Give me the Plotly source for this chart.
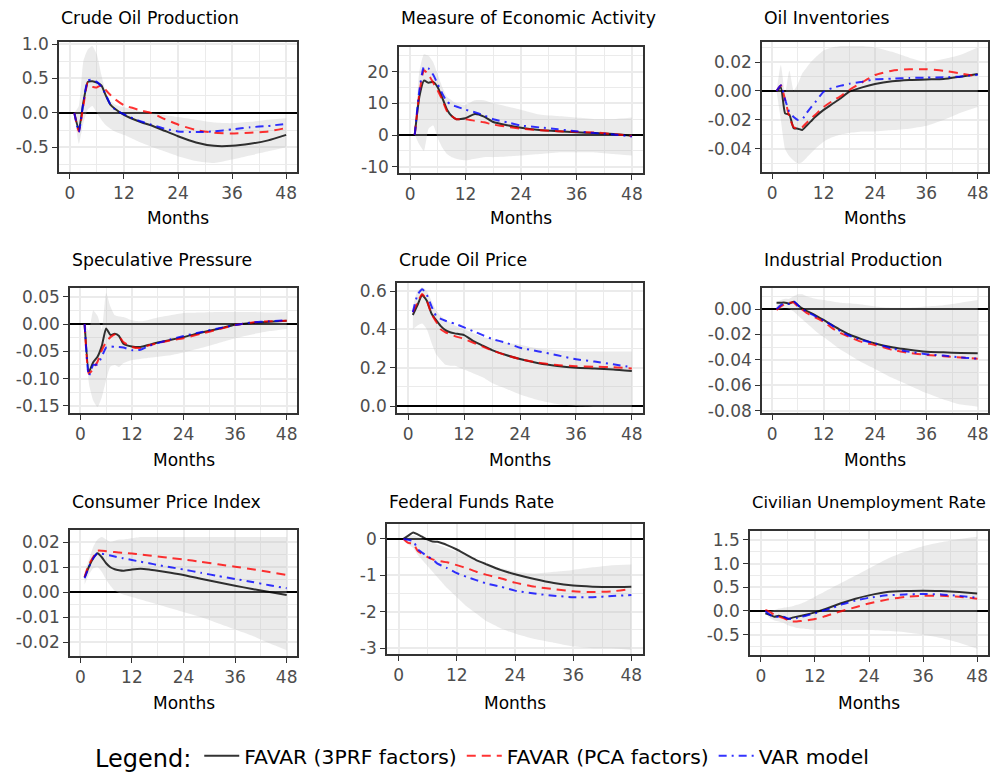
import plotly.graph_objects as go

W, H = 992, 772
FONT = "DejaVu Sans"

# ---------------- data ----------------
months = [1, 2, 3, 4, 5, 6, 7, 8, 9, 10, 12, 14, 16, 18, 21, 24, 28, 32, 36, 40, 44, 48]
x_ticks = [0, 12, 24, 36, 48]
x_tick_labels = ["0", "12", "24", "36", "48"]
x_minor = [6, 18, 30, 42]

series_names = ["FAVAR (3PRF factors)", "FAVAR (PCA factors)", "VAR model"]

# Crude Oil Production
cop_3prf = [0, -0.25, 0.15, 0.45, 0.46, 0.44, 0.40, 0.25, 0.12, 0.06, -0.03, -0.09, -0.14, -0.18, -0.26, -0.34, -0.43, -0.48, -0.48, -0.45, -0.40, -0.32]
cop_pca = [0, -0.27, 0.10, 0.44, 0.38, 0.37, 0.40, 0.33, 0.26, 0.20, 0.11, 0.07, 0.03, 0.0, -0.09, -0.17, -0.25, -0.29, -0.30, -0.29, -0.27, -0.22]
cop_var = [0, -0.28, 0.15, 0.47, 0.48, 0.45, 0.38, 0.26, 0.12, 0.05, -0.02, -0.08, -0.13, -0.17, -0.23, -0.27, -0.28, -0.27, -0.24, -0.21, -0.19, -0.16]
cop_lo = [0, -0.45, -0.15, 0.05, 0.10, 0.0, -0.10, -0.18, -0.23, -0.27, -0.32, -0.38, -0.44, -0.49, -0.56, -0.63, -0.70, -0.73, -0.68, -0.62, -0.56, -0.50]
cop_hi = [0, 0.10, 0.75, 0.92, 0.97, 0.85, 0.55, 0.30, 0.18, 0.12, 0.08, 0.05, 0.02, 0.0, -0.03, -0.06, -0.10, -0.14, -0.15, -0.13, -0.10, -0.08]

# Measure of Economic Activity
mea_3prf = [0, 12, 17.2, 16.5, 16.8, 15, 11.6, 8, 6, 5, 5.3, 6.6, 5.8, 4.1, 3.1, 2.3, 1.6, 1.2, 0.9, 0.6, 0.3, -0.2]
mea_pca = [0, 13, 20.5, 19, 16.5, 14, 11, 7.5, 6, 5, 5, 4.5, 4, 3.3, 2.6, 2.0, 1.5, 1.2, 1.0, 0.8, 0.3, -0.3]
mea_var = [0, 14, 21.5, 21, 19, 16, 13, 10.5, 9.5, 9, 8, 7.2, 6.2, 5, 4, 3, 2.4, 1.8, 1.2, 0.6, 0.2, -0.5]
mea_lo = [0, -3, -5, 2, 3, -1, -4, -6, -7, -7.5, -8, -7.5, -7, -7, -6.8, -6.5, -6, -5.5, -5.5, -5.5, -6, -6.5]
mea_hi = [0, 20, 25.5, 25, 23, 19, 15, 12, 11, 10, 9.5, 11, 11, 10, 9, 8, 6.5, 6, 5.5, 5, 5, 5.5]

# Oil Inventories
inv_3prf = [0, 0.0025, -0.0154, -0.0163, -0.0257, -0.026, -0.0269, -0.024, -0.021, -0.018, -0.013, -0.009, -0.005, -0.0005, 0.0025, 0.0048, 0.0067, 0.0076, 0.008, 0.0082, 0.0099, 0.0117]
inv_pca = [0, 0.004, -0.006, -0.018, -0.025, -0.026, -0.025, -0.022, -0.019, -0.0165, -0.011, -0.007, -0.0035, 0.0007, 0.006, 0.011, 0.014, 0.015, 0.015, 0.014, 0.012, 0.010]
inv_var = [0, 0.004, -0.006, -0.0145, -0.018, -0.020, -0.0195, -0.0153, -0.0115, -0.0078, -0.0005, 0.002, 0.0037, 0.005, 0.0064, 0.008, 0.0085, 0.009, 0.0092, 0.0094, 0.010, 0.0112]
inv_lo = [0, -0.02, -0.04, -0.045, -0.048, -0.050, -0.049, -0.046, -0.043, -0.040, -0.035, -0.032, -0.030, -0.029, -0.028, -0.028, -0.027, -0.026, -0.024, -0.020, -0.015, -0.011]
inv_hi = [0, 0.018, -0.0016, 0.014, 0.0004, 0.005, 0.012, 0.016, 0.020, 0.023, 0.028, 0.030, 0.031, 0.031, 0.031, 0.030, 0.027, 0.023, 0.020, 0.022, 0.025, 0.030]

# Speculative Pressure
spec_3prf = [0, -0.0875, -0.07, -0.06, -0.04, -0.008, -0.02, -0.018, -0.022, -0.036, -0.041, -0.042, -0.038, -0.034, -0.029, -0.024, -0.016, -0.009, -0.0015, 0.002, 0.004, 0.006]
spec_pca = [0, -0.091, -0.082, -0.069, -0.048, -0.033, -0.024, -0.019, -0.022, -0.033, -0.042, -0.044, -0.039, -0.035, -0.030, -0.026, -0.018, -0.010, -0.002, 0.003, 0.005, 0.006]
spec_var = [0, -0.095, -0.075, -0.074, -0.060, -0.043, -0.041, -0.042, -0.042, -0.043, -0.048, -0.047, -0.040, -0.035, -0.028, -0.022, -0.015, -0.008, -0.002, 0.003, 0.005, 0.007]
spec_lo = [0, -0.109, -0.14, -0.152, -0.134, -0.103, -0.078, -0.075, -0.079, -0.072, -0.066, -0.064, -0.062, -0.060, -0.057, -0.052, -0.044, -0.035, -0.026, -0.019, -0.013, -0.009]
spec_hi = [0, -0.012, 0.025, 0.015, -0.010, 0.057, 0.032, 0.016, 0.014, 0.013, 0.007, 0.005, 0.008, 0.012, 0.016, 0.020, 0.021, 0.022, 0.022, 0.022, 0.021, 0.022]

# Crude Oil Price
price_3prf = [0.475, 0.527, 0.579, 0.549, 0.483, 0.448, 0.417, 0.396, 0.385, 0.379, 0.370, 0.339, 0.315, 0.292, 0.266, 0.245, 0.223, 0.209, 0.200, 0.196, 0.191, 0.183]
price_pca = [0.49, 0.54, 0.585, 0.55, 0.48, 0.44, 0.40, 0.385, 0.375, 0.365, 0.35, 0.33, 0.31, 0.29, 0.265, 0.245, 0.226, 0.214, 0.208, 0.205, 0.202, 0.196]
price_var = [0.49, 0.58, 0.61, 0.58, 0.52, 0.47, 0.455, 0.445, 0.437, 0.43, 0.41, 0.39, 0.37, 0.35, 0.33, 0.304, 0.285, 0.265, 0.244, 0.232, 0.218, 0.202]
price_lo = [0.40, 0.42, 0.43, 0.40, 0.33, 0.27, 0.24, 0.215, 0.21, 0.21, 0.19, 0.17, 0.15, 0.12, 0.09, 0.06, 0.03, 0.01, 0.0, -0.005, -0.005, -0.005]
price_hi = [0.52, 0.60, 0.62, 0.60, 0.55, 0.50, 0.47, 0.45, 0.435, 0.42, 0.40, 0.38, 0.36, 0.35, 0.33, 0.32, 0.30, 0.29, 0.285, 0.285, 0.285, 0.284]

# Industrial Production
ip_3prf = [0.005, 0.005, 0.005, 0.0043, 0.0058, 0.003, 0.0005, -0.0014, -0.003, -0.0047, -0.0086, -0.0126, -0.0165, -0.020, -0.0238, -0.027, -0.030, -0.032, -0.0335, -0.034, -0.0345, -0.0348]
ip_pca = [-0.0008, 0.002, 0.004, 0.005, 0.005, 0.002, -0.0005, -0.003, -0.0048, -0.0065, -0.010, -0.015, -0.019, -0.022, -0.026, -0.0282, -0.032, -0.0345, -0.036, -0.037, -0.038, -0.039]
ip_var = [0.0, 0.003, 0.0045, 0.004, 0.006, 0.003, 0.0, -0.002, -0.0038, -0.0055, -0.009, -0.013, -0.0175, -0.021, -0.0245, -0.027, -0.031, -0.0335, -0.0355, -0.0365, -0.038, -0.039]
ip_lo = [-0.001, 0.0, 0.001, 0.0, -0.002, -0.005, -0.008, -0.011, -0.014, -0.017, -0.022, -0.027, -0.032, -0.036, -0.042, -0.047, -0.054, -0.060, -0.066, -0.071, -0.075, -0.0766]
ip_hi = [0.005, 0.007, 0.008, 0.008, 0.010, 0.0115, 0.0115, 0.010, 0.009, 0.008, 0.007, 0.006, 0.005, 0.0045, 0.0035, 0.002, 0.001, 0.001, 0.002, 0.003, 0.005, 0.007]

# Consumer Price Index
cpi_3prf = [0.0059, 0.0101, 0.0135, 0.0155, 0.0139, 0.0115, 0.0099, 0.0091, 0.0087, 0.0085, 0.009, 0.0093, 0.009, 0.0085, 0.0077, 0.0068, 0.0053, 0.0039, 0.0025, 0.0012, 0.0, -0.0012]
cpi_pca = [0.006, 0.011, 0.014, 0.0165, 0.0165, 0.0163, 0.0161, 0.016, 0.0158, 0.0157, 0.0154, 0.015, 0.0146, 0.0142, 0.0136, 0.013, 0.0121, 0.0111, 0.0101, 0.0091, 0.008, 0.0068]
cpi_var = [0.0055, 0.010, 0.0135, 0.0155, 0.0153, 0.015, 0.0146, 0.0142, 0.0138, 0.0135, 0.0128, 0.0121, 0.0115, 0.0108, 0.0099, 0.009, 0.0077, 0.0064, 0.0052, 0.004, 0.0027, 0.0015]
cpi_lo = [0.003, 0.007, 0.0095, 0.010, 0.008, 0.005, 0.0025, 0.0005, -0.0003, -0.001, -0.002, -0.003, -0.004, -0.005, -0.0065, -0.008, -0.010, -0.0125, -0.015, -0.0175, -0.0205, -0.0233]
cpi_hi = [0.008, 0.013, 0.018, 0.021, 0.022, 0.021, 0.020, 0.0205, 0.021, 0.021, 0.0215, 0.022, 0.022, 0.022, 0.022, 0.022, 0.022, 0.022, 0.022, 0.022, 0.022, 0.022]

# Federal Funds Rate
ffr_3prf = [0, 0.09, 0.18, 0.12, 0.05, -0.02, -0.07, -0.08, -0.12, -0.17, -0.29, -0.44, -0.58, -0.69, -0.85, -0.97, -1.10, -1.21, -1.28, -1.31, -1.32, -1.31]
ffr_pca = [0, -0.11, -0.13, -0.34, -0.42, -0.50, -0.56, -0.60, -0.62, -0.64, -0.72, -0.80, -0.90, -0.98, -1.08, -1.20, -1.31, -1.38, -1.44, -1.46, -1.44, -1.37]
ffr_var = [0, -0.02, -0.06, -0.29, -0.39, -0.48, -0.56, -0.68, -0.74, -0.80, -0.94, -1.04, -1.13, -1.22, -1.31, -1.42, -1.50, -1.56, -1.60, -1.60, -1.57, -1.54]
ffr_lo = [0, -0.15, -0.25, -0.45, -0.60, -0.75, -0.90, -1.05, -1.20, -1.35, -1.60, -1.85, -2.05, -2.25, -2.45, -2.60, -2.75, -2.85, -2.95, -3.0, -3.0, -3.05]
ffr_hi = [0, 0.05, 0.10, 0.05, 0.0, -0.05, -0.10, -0.15, -0.20, -0.25, -0.35, -0.45, -0.58, -0.68, -0.80, -0.90, -0.95, -0.90, -0.85, -0.78, -0.72, -0.70]

# Civilian Unemployment Rate
unemp_3prf = [-0.05, -0.08, -0.12, -0.10, -0.13, -0.17, -0.14, -0.12, -0.10, -0.08, -0.03, 0.03, 0.10, 0.17, 0.26, 0.33, 0.40, 0.42, 0.43, 0.42, 0.40, 0.37]
unemp_pca = [0.02, -0.02, -0.08, -0.12, -0.15, -0.19, -0.22, -0.22, -0.21, -0.20, -0.17, -0.12, -0.06, 0.0, 0.08, 0.16, 0.24, 0.30, 0.32, 0.32, 0.30, 0.26]
unemp_var = [0, -0.08, -0.13, -0.12, -0.12, -0.16, -0.17, -0.15, -0.12, -0.10, -0.05, 0.01, 0.07, 0.14, 0.22, 0.28, 0.33, 0.35, 0.36, 0.35, 0.32, 0.28]
unemp_lo = [-0.05, -0.15, -0.20, -0.22, -0.25, -0.30, -0.33, -0.36, -0.37, -0.38, -0.40, -0.40, -0.40, -0.40, -0.40, -0.40, -0.42, -0.45, -0.50, -0.57, -0.67, -0.80]
unemp_hi = [0, 0.0, 0.02, 0.05, 0.07, 0.08, 0.10, 0.13, 0.16, 0.20, 0.30, 0.40, 0.50, 0.60, 0.75, 0.90, 1.10, 1.25, 1.37, 1.45, 1.52, 1.57]

# y-axis ticks
cop_yticks = [-0.5, 0.0, 0.5, 1.0]; cop_ylabels = ["-0.5", "0.0", "0.5", "1.0"]
mea_yticks = [-10, 0, 10, 20]; mea_ylabels = ["-10", "0", "10", "20"]
inv_yticks = [-0.04, -0.02, 0.0, 0.02]; inv_ylabels = ["-0.04", "-0.02", "0.00", "0.02"]
spec_yticks = [-0.15, -0.10, -0.05, 0.0, 0.05]; spec_ylabels = ["-0.15", "-0.10", "-0.05", "0.00", "0.05"]
price_yticks = [0.0, 0.2, 0.4, 0.6]; price_ylabels = ["0.0", "0.2", "0.4", "0.6"]
ip_yticks = [-0.08, -0.06, -0.04, -0.02, 0.0]; ip_ylabels = ["-0.08", "-0.06", "-0.04", "-0.02", "0.00"]
cpi_yticks = [-0.02, -0.01, 0.0, 0.01, 0.02]; cpi_ylabels = ["-0.02", "-0.01", "0.00", "0.01", "0.02"]
ffr_yticks = [-3, -2, -1, 0]; ffr_ylabels = ["-3", "-2", "-1", "0"]
unemp_yticks = [-0.5, 0.0, 0.5, 1.0, 1.5]; unemp_ylabels = ["-0.5", "0.0", "0.5", "1.0", "1.5"]

# ---------------- layout of panels (screen pixels) ----------------
panels = [
    dict(title="Crude Oil Production", box=(59, 297, 42, 172), yr=(-0.86, 1.03),
         yt=cop_yticks, yl=cop_ylabels, ym=[-0.75, -0.25, 0.25, 0.75],
         s=(cop_3prf, cop_pca, cop_var, cop_lo, cop_hi), ty=18, my=218, tfs=17.3),
    dict(title="Measure of Economic Activity", box=(399, 643, 47, 173), yr=(-12.0, 27.8),
         yt=mea_yticks, yl=mea_ylabels, ym=[-5, 5, 15, 25],
         s=(mea_3prf, mea_pca, mea_var, mea_lo, mea_hi), ty=18, my=218, tfs=17.3),
    dict(title="Oil Inventories", box=(762, 988, 42, 172), yr=(-0.0559, 0.0338),
         yt=inv_yticks, yl=inv_ylabels, ym=[-0.05, -0.03, -0.01, 0.01, 0.03],
         s=(inv_3prf, inv_pca, inv_var, inv_lo, inv_hi), ty=18, my=218, tfs=17.3),
    dict(title="Speculative Pressure", box=(70, 297, 288, 413), yr=(-0.163, 0.066),
         yt=spec_yticks, yl=spec_ylabels, ym=[-0.125, -0.075, -0.025, 0.025],
         s=(spec_3prf, spec_pca, spec_var, spec_lo, spec_hi), ty=260, my=460, tfs=17.3),
    dict(title="Crude Oil Price", box=(397, 643, 283, 413), yr=(-0.0365, 0.642),
         yt=price_yticks, yl=price_ylabels, ym=[0.1, 0.3, 0.5],
         s=(price_3prf, price_pca, price_var, price_lo, price_hi), ty=260, my=460, tfs=17.3),
    dict(title="Industrial Production", box=(762, 988, 288, 413), yr=(-0.0816, 0.0165),
         yt=ip_yticks, yl=ip_ylabels, ym=[-0.07, -0.05, -0.03, -0.01, 0.01],
         s=(ip_3prf, ip_pca, ip_var, ip_lo, ip_hi), ty=260, my=460, tfs=17.3),
    dict(title="Consumer Price Index", box=(70, 297, 530, 656), yr=(-0.0256, 0.0248),
         yt=cpi_yticks, yl=cpi_ylabels, ym=[-0.015, -0.005, 0.005, 0.015],
         s=(cpi_3prf, cpi_pca, cpi_var, cpi_lo, cpi_hi), ty=502, my=703, tfs=17.3),
    dict(title="Federal Funds Rate", box=(387, 643, 524, 654), yr=(-3.16, 0.41),
         yt=ffr_yticks, yl=ffr_ylabels, ym=[-2.5, -1.5, -0.5],
         s=(ffr_3prf, ffr_pca, ffr_var, ffr_lo, ffr_hi), ty=502, my=703, tfs=17.3),
    dict(title="Civilian Unemployment Rate", box=(750, 988, 531, 655), yr=(-0.93, 1.69),
         yt=unemp_yticks, yl=unemp_ylabels, ym=[-0.75, -0.25, 0.25, 0.75, 1.25],
         s=(unemp_3prf, unemp_pca, unemp_var, unemp_lo, unemp_hi), ty=502, my=703, tfs=16.4),
]

line_styles = [
    dict(color="rgba(0,0,0,0.8)", width=2, dash="solid"),
    dict(color="rgba(255,0,0,0.8)", width=2, dash="9px,6px"),
    dict(color="rgba(0,0,255,0.8)", width=2, dash="8px,5px,2px,5px"),
]
ribbon_fill = "rgba(190,190,190,0.3)"

GRID = "#EBEBEB"
axis_common = dict(
    showline=True, mirror=True, linecolor="#333333", linewidth=1.6,
    ticks="outside", ticklen=5, tickwidth=1.2, tickcolor="#333333",
    showgrid=True, gridcolor=GRID, gridwidth=1.6,
    tickfont=dict(family=FONT, size=17, color="#4D4D4D"),
    fixedrange=True, automargin=False,
)


def px_x(v):
    return v / W


def px_y(v):
    return 1 - v / H


fig = go.Figure()
annotations = []
layout = dict(
    width=W, height=H, margin=dict(l=0, r=0, t=0, b=0, autoexpand=False),
    paper_bgcolor="white", plot_bgcolor="white",
    font=dict(family=FONT, color="black"),
    showlegend=True,
)

for i, p in enumerate(panels):
    k = "" if i == 0 else str(i + 1)
    l, r, t, b = p["box"]
    xa = "x" + k
    ya = "y" + k
    lo, hi = p["s"][3], p["s"][4]
    fig.add_trace(go.Scatter(x=months, y=lo, mode="lines", line=dict(width=0, shape="spline", smoothing=0.5),
                             xaxis=xa, yaxis=ya, showlegend=False, hoverinfo="skip"))
    fig.add_trace(go.Scatter(x=months, y=hi, mode="lines", line=dict(width=0, shape="spline", smoothing=0.5),
                             fill="tonexty", fillcolor=ribbon_fill,
                             xaxis=xa, yaxis=ya, showlegend=False, hoverinfo="skip"))
    for j in range(3):
        st = line_styles[j]
        fig.add_trace(go.Scatter(
            x=months, y=p["s"][j], mode="lines", name=series_names[j],
            line=dict(color=st["color"], width=st["width"], dash=st["dash"], shape="spline", smoothing=0.5),
            xaxis=xa, yaxis=ya, legendgroup=series_names[j], showlegend=(i == 0)))

    layout["xaxis" + k] = dict(
        domain=[px_x(l), px_x(r)], anchor=ya, range=[-2.4, 50.4],
        tickmode="array", tickvals=x_ticks, ticktext=x_tick_labels,
        minor=dict(tickmode="array", tickvals=x_minor, showgrid=True, gridcolor=GRID, gridwidth=0.8, ticks=""),
        zeroline=False, **axis_common)
    layout["yaxis" + k] = dict(
        domain=[px_y(b), px_y(t)], anchor=xa, range=list(p["yr"]),
        tickmode="array", tickvals=p["yt"], ticktext=p["yl"],
        minor=dict(tickmode="array", tickvals=p["ym"], showgrid=True, gridcolor=GRID, gridwidth=0.8, ticks=""),
        zeroline=True, zerolinecolor="black", zerolinewidth=2, **axis_common)

    annotations.append(dict(text=p["title"], xref="paper", yref="paper", x=px_x(l), y=px_y(p["ty"]),
                            xanchor="left", yanchor="middle", showarrow=False,
                            font=dict(family=FONT, size=p["tfs"], color="black")))
    annotations.append(dict(text="Months", xref="paper", yref="paper", x=px_x((l + r) / 2), y=px_y(p["my"]),
                            xanchor="center", yanchor="middle", showarrow=False,
                            font=dict(family=FONT, size=17, color="black")))

layout["annotations"] = annotations
layout["legend"] = dict(
    orientation="h", xref="container", yref="container",
    x=px_x(93), xanchor="left", y=px_y(757), yanchor="middle",
    title=dict(text="Legend:", font=dict(family=FONT, size=24, color="black"), side="left"),
    font=dict(family=FONT, size=20.3, color="black"), bgcolor="rgba(0,0,0,0)",
    itemwidth=35,
)
fig.update_layout(**layout)
fig.write_html(
    "out.html",
    config={"displayModeBar": False},
    post_script="document.body.style.margin='0px'; document.body.style.overflow='hidden';",
)
